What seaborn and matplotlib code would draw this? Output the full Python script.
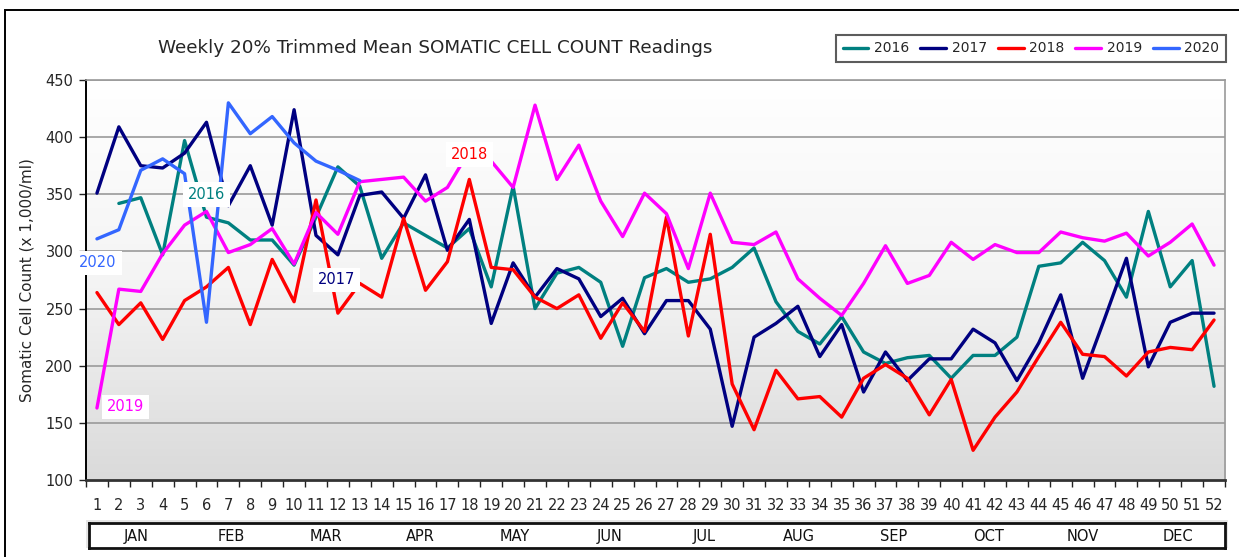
import numpy as np
import pandas as pd
import matplotlib
matplotlib.use("Agg")
import matplotlib.pyplot as plt
from matplotlib.patches import Rectangle
import seaborn as sns

# Weekly 20% trimmed mean somatic cell count (x 1,000/ml), weeks 1-52
weeks = list(range(1, 53))

scc_2016 = [np.nan, 342, 347, 297, 397, 330, 325, 310, 310, 288,
            330, 374, 357, 294, 325, 314, 303, 320, 269, 357,
            250, 281, 286, 273, 217, 277, 285, 273, 276, 286,
            303, 256, 230, 219, 243, 212, 202, 207, 209, 189,
            209, 209, 225, 287, 290, 308, 292, 260, 335, 269,
            292, 182]
scc_2017 = [351, 409, 375, 373, 386, 413, 340, 375, 323, 424,
            314, 297, 349, 352, 329, 367, 301, 328, 237, 290,
            260, 285, 276, 243, 259, 228, 257, 257, 232, 147,
            225, 237, 252, 208, 236, 177, 212, 187, 206, 206,
            232, 220, 187, 220, 262, 189, 241, 294, 199, 238,
            246, 246]
scc_2018 = [264, 236, 255, 223, 257, 269, 286, 236, 293, 256,
            345, 246, 272, 260, 329, 266, 291, 363, 286, 284,
            260, 250, 262, 224, 255, 230, 330, 226, 315, 184,
            144, 196, 171, 173, 155, 189, 201, 189, 157, 188,
            126, 155, 177, 208, 238, 210, 208, 191, 212, 216,
            214, 240]
scc_2019 = [163, 267, 265, 298, 323, 335, 299, 306, 320, 289,
            334, 315, 361, 363, 365, 344, 356, 388, 379, 356,
            428, 363, 393, 344, 313, 351, 333, 285, 351, 308,
            306, 317, 276, 259, 244, 272, 305, 272, 279, 308,
            293, 306, 299, 299, 317, 312, 309, 316, 296, 308,
            324, 288]
scc_2020 = [311, 319, 371, 381, 368, 238, 430, 403, 418, 395,
            379, 371, 362] + [np.nan] * 39

years = ["2016", "2017", "2018", "2019", "2020"]
colors = ["#008080", "#000080", "#ff0000", "#ff00ff", "#3366ff"]
months = ["JAN", "FEB", "MAR", "APR", "MAY", "JUN",
          "JUL", "AUG", "SEP", "OCT", "NOV", "DEC"]

# inline series tags: (text, week, value)
tags = [("2020", 1.05, 290), ("2019", 2.3, 164), ("2016", 6.0, 350),
        ("2017", 11.95, 275), ("2018", 18.0, 385)]
tag_colors = [colors[4], colors[3], colors[0], colors[1], colors[2]]

df = pd.DataFrame({"week": weeks * 5,
                   "year": np.repeat(years, 52),
                   "scc": scc_2016 + scc_2017 + scc_2018 + scc_2019 + scc_2020})

sns.set_theme(style="white")
plt.rcParams["font.family"] = ["DejaVu Sans"]

W, H = 1239, 557
fig = plt.figure(figsize=(W / 100, H / 100), dpi=100)


def fx(px):
    return px / W


def fy(py):
    return 1 - py / H


# outer frame
fig.add_artist(Rectangle((fx(4.5), fy(600)), fx(1300), fy(10) - fy(600),
                         transform=fig.transFigure, fill=False,
                         edgecolor="black", linewidth=1.4, zorder=-5))

ax = fig.add_axes([fx(86), fy(480), fx(1225) - fx(86), fy(80) - fy(480)])
ax.set_xlim(0.5, 52.5)
ax.set_ylim(100, 450)

# vertical gradient background
grad = np.linspace(0, 1, 256).reshape(-1, 1)
ax.imshow(grad, extent=(0.5, 52.5, 100, 450), aspect="auto", origin="upper",
          cmap=matplotlib.colors.LinearSegmentedColormap.from_list(
              "bg", ["#ffffff", "#f4f4f4", "#dadada"]), zorder=0)

for y in range(150, 451, 50):
    ax.axhline(y, color="#9a9a9a", linewidth=1.2, zorder=1)

sns.lineplot(data=df, x="week", y="scc", hue="year", palette=colors,
             linewidth=2.4, ax=ax, legend=True, zorder=3, sort=False)

for (txt, wx, vy), c in zip(tags, tag_colors):
    ax.text(wx, vy, txt, color=c, fontsize=10.5, ha="center", va="center", zorder=5,
            bbox=dict(facecolor="white", edgecolor="none", pad=3.5))

ax.set_xticks(np.arange(0.5, 53, 1))
ax.set_xticklabels([])
ax.set_xticks(weeks, minor=True)
ax.set_xticklabels([str(w) for w in weeks], minor=True, fontsize=10)
ax.tick_params(axis="x", which="major", direction="out", length=5, width=1,
               color="#222222", bottom=True)
ax.tick_params(axis="x", which="minor", length=0, pad=13, labelsize=10.5)
ax.set_yticks(range(100, 451, 50))
ax.tick_params(axis="y", direction="out", length=5, width=1, color="#222222",
               left=True, labelsize=10.5, pad=4)
ax.set_xlabel("")
ax.set_ylabel("Somatic Cell Count (x 1,000/ml)", fontsize=11, labelpad=8)

for s in ["top", "right"]:
    ax.spines[s].set_color("#9a9a9a")
    ax.spines[s].set_linewidth(1.2)
ax.spines["left"].set_color("black")
ax.spines["left"].set_linewidth(1.4)
ax.spines["bottom"].set_color("#333333")
ax.spines["bottom"].set_linewidth(2)

ax.get_legend().remove()
handles = [plt.Line2D([], [], color=c, linewidth=2.4) for c in colors]
leg = fig.legend(handles, years, loc="center",
                 bbox_to_anchor=((fx(835) + fx(1227)) / 2, (fy(33) + fy(64)) / 2),
                 ncol=5, frameon=True, fancybox=False, fontsize=10,
                 handlelength=1.85, handletextpad=0.4, columnspacing=0.8,
                 borderpad=0.5)
leg.get_frame().set_edgecolor("#333333")
leg.get_frame().set_linewidth(1.5)

fig.text(fx(435), fy(48), "Weekly 20% Trimmed Mean SOMATIC CELL COUNT Readings",
         ha="center", va="center", fontsize=13.2)

# month band below the week numbers
fig.add_artist(Rectangle((fx(86), fy(548)), fx(1228) - fx(86), fy(520) - fy(548),
                         transform=fig.transFigure, facecolor="#e6e6e6",
                         edgecolor="none", zorder=-2))
mx = fig.add_axes([fx(89), fy(548), fx(1225) - fx(89), fy(523) - fy(548)])
mx.set_xlim(0, 12)
mx.set_ylim(0, 1)
mx.set_facecolor("white")
mx.set_xticks([])
mx.set_yticks([])
for s in mx.spines.values():
    s.set_visible(True)
    s.set_color("#111111")
    s.set_linewidth(2)
for i, m in enumerate(months):
    mx.text(i + 0.5, 0.45, m, ha="center", va="center", fontsize=10.5,
            color="#111111")

fig.savefig("out.png", dpi=100)
